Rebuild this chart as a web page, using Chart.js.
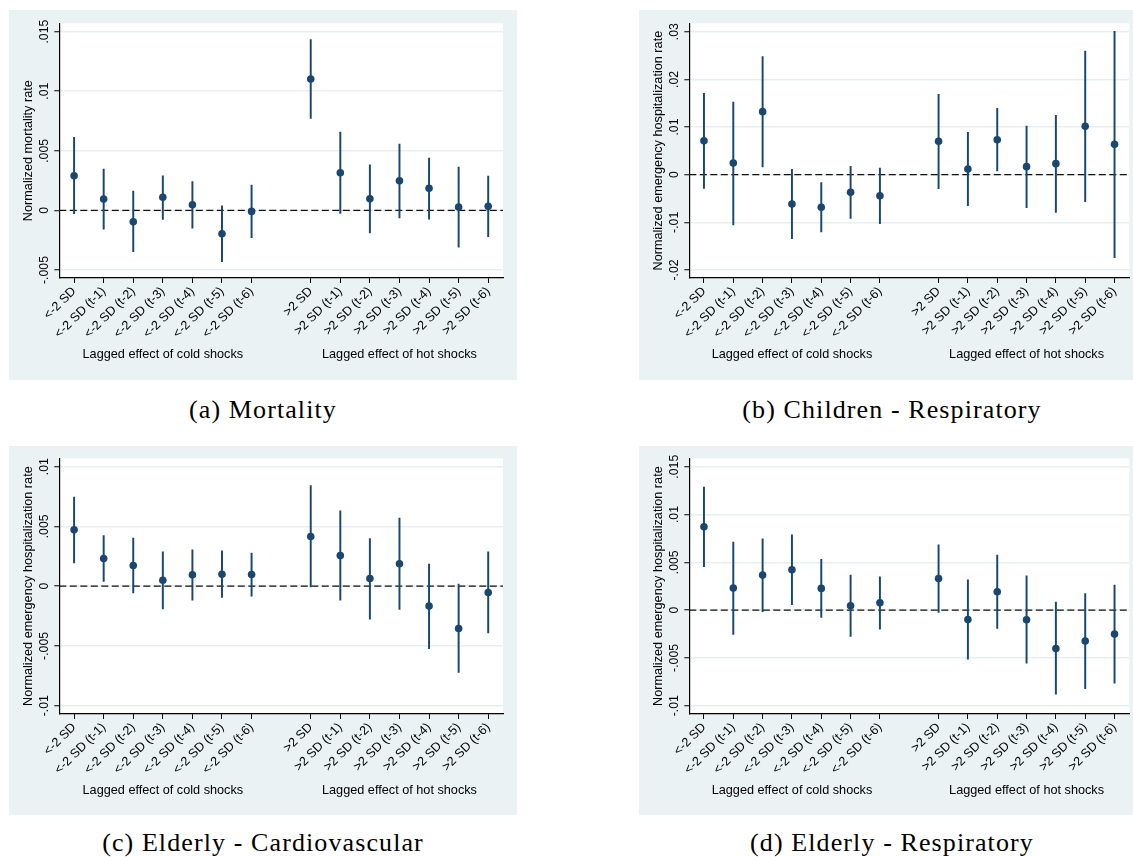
<!DOCTYPE html>
<html>
<head>
<meta charset="utf-8">
<script src="https://cdn.jsdelivr.net/npm/chart.js@4.4.1/dist/chart.umd.min.js"></script>
<style>
  html, body { margin: 0; padding: 0; background: #fff; overflow: hidden; width: 1133px; height: 857px; }
  canvas { position: absolute; }
  .cap {
    position: absolute; width: 500px; text-align: center;
    font-family: "Liberation Serif", serif; font-size: 26px; line-height: 26px;
    letter-spacing: 1.1px; color: #000; white-space: nowrap;
  }
</style>
</head>
<body>
<canvas id="panelA" width="508" height="370" style="left:9px;top:10px"></canvas>
<canvas id="panelB" width="494" height="370" style="left:639px;top:10px"></canvas>
<canvas id="panelC" width="508" height="369" style="left:9px;top:446px"></canvas>
<canvas id="panelD" width="494" height="369" style="left:639px;top:446px"></canvas>

<div class="cap" style="left:13px;top:397px">(a) Mortality</div>
<div class="cap" style="left:642px;top:397px">(b) Children - Respiratory</div>
<div class="cap" style="left:13px;top:830px">(c) Elderly - Cardiovascular</div>
<div class="cap" style="left:642px;top:830px">(d) Elderly - Respiratory</div>

<script>
// Shock categories; the blank slot separates cold lags from hot lags
const categories = [
  '<-2 SD', '<-2 SD (t-1)', '<-2 SD (t-2)', '<-2 SD (t-3)', '<-2 SD (t-4)', '<-2 SD (t-5)', '<-2 SD (t-6)',
  '',
  '>2 SD', '>2 SD (t-1)', '>2 SD (t-2)', '>2 SD (t-3)', '>2 SD (t-4)', '>2 SD (t-5)', '>2 SD (t-6)'
];
const groupLabels = ['Lagged effect of cold shocks', 'Lagged effect of hot shocks'];
const groupCenters = [3, 11];

// (a) Mortality: point estimates and 95% CI bounds
const mortalityEst  = [0.0029, 0.00095, -0.00095, 0.0011, 0.00048, -0.00196, -0.00008, null, 0.01103, 0.00316, 0.00098, 0.00249, 0.00185, 0.00028, 0.00034];
const mortalityLow  = [-0.00028, -0.00157, -0.00347, -0.00076, -0.00148, -0.00431, -0.00229, null, 0.00772, -0.00025, -0.00188, -0.00062, -0.00073, -0.00308, -0.00221];
const mortalityHigh = [0.00613, 0.00347, 0.00162, 0.00291, 0.00243, 0.00039, 0.00213, null, 0.01433, 0.00658, 0.00383, 0.00557, 0.00439, 0.00364, 0.00288];
const mortalityTicks = [-0.005, 0, 0.005, 0.01, 0.015];
const mortalityTickLabels = ['-.005', '0', '.005', '.01', '.015'];

// (b) Children - respiratory emergency hospitalizations
const childRespEst  = [0.00713, 0.00245, 0.01322, -0.00615, -0.00685, -0.00371, -0.00441, null, 0.00699, 0.00119, 0.00734, 0.00168, 0.00231, 0.01014, 0.00636];
const childRespLow  = [-0.00287, -0.01056, 0.00161, -0.01343, -0.01203, -0.00916, -0.01028, null, -0.00294, -0.0065, 0.00077, -0.00692, -0.0079, -0.00566, -0.01741];
const childRespHigh = [0.01706, 0.01524, 0.02476, 0.00112, -0.00168, 0.00175, 0.0014, null, 0.01685, 0.00888, 0.01392, 0.01021, 0.01245, 0.02594, 0.03007];
const childRespTicks = [-0.02, -0.01, 0, 0.01, 0.02, 0.03];
const childRespTickLabels = ['-.02', '-.01', '0', '.01', '.02', '.03'];

// (c) Elderly - cardiovascular emergency hospitalizations
const elderCardioEst  = [0.00471, 0.00232, 0.00173, 0.0005, 0.00095, 0.001, 0.00098, null, 0.00416, 0.00257, 0.00064, 0.00187, -0.00167, -0.00354, -0.00053];
const elderCardioLow  = [0.00195, 0.00039, -0.00056, -0.0019, -0.00117, -0.00095, -0.00084, null, -0.00006, -0.00117, -0.00276, -0.00195, -0.00524, -0.00722, -0.00391];
const elderCardioHigh = [0.00745, 0.00424, 0.00402, 0.00287, 0.00304, 0.00296, 0.00276, null, 0.00842, 0.0063, 0.00399, 0.00569, 0.00184, 0.00017, 0.00287];
const elderCardioTicks = [-0.01, -0.005, 0, 0.005, 0.01];
const elderCardioTickLabels = ['-.01', '-.005', '0', '.005', '.01'];

// (d) Elderly - respiratory emergency hospitalizations
const elderRespEst  = [0.00872, 0.0023, 0.00366, 0.00422, 0.00227, 0.00045, 0.00077, null, 0.00331, -0.00098, 0.00192, -0.00101, -0.00401, -0.00324, -0.00251];
const elderRespLow  = [0.00453, -0.00255, -0.00017, 0.00056, -0.00077, -0.00275, -0.00199, null, -0.00024, -0.00513, -0.00192, -0.00554, -0.00879, -0.00823, -0.00764];
const elderRespHigh = [0.01287, 0.00711, 0.00746, 0.00788, 0.0053, 0.00366, 0.00349, null, 0.00683, 0.00317, 0.00575, 0.00359, 0.00084, 0.00174, 0.00262];
const elderRespTicks = [-0.01, -0.005, 0, 0.005, 0.01, 0.015];
const elderRespTickLabels = ['-.01', '-.005', '0', '.005', '.01', '.015'];

const NAVY = '#1a476f';
const REGION_BG = '#eaf2f3';
const GRID = '#e6eff1';
const SANS = '"Liberation Sans", Arial, sans-serif';

// Outer region fill and white plot area
const backgroundPlugin = {
  id: 'regionBg',
  beforeDraw(chart) {
    const { ctx, chartArea: a } = chart;
    ctx.save();
    ctx.fillStyle = REGION_BG;
    ctx.fillRect(0, 0, chart.width, chart.height);
    ctx.fillStyle = '#fff';
    ctx.fillRect(a.left, a.top, a.right - a.left, a.bottom - a.top);
    ctx.restore();
  }
};

// Dashed reference line at zero
const zeroLinePlugin = {
  id: 'zeroLine',
  beforeDatasetsDraw(chart) {
    const { ctx, chartArea: a } = chart;
    const y = chart.scales.y.getPixelForValue(0);
    ctx.save();
    ctx.strokeStyle = '#111';
    ctx.lineWidth = 1.2;
    ctx.setLineDash([7, 3.5]);
    ctx.beginPath();
    ctx.moveTo(a.left, y);
    ctx.lineTo(a.right, y);
    ctx.stroke();
    ctx.restore();
  }
};

// Vertical y tick labels and the two group captions under the x axis
const textPlugin = {
  id: 'axisText',
  afterDraw(chart) {
    const { ctx } = chart;
    const cfg = chart.options.plugins.axisText;
    const ys = chart.scales.y, xs = chart.scales.x;
    ctx.save();
    ctx.fillStyle = '#000';
    ctx.font = '12.3px ' + SANS;
    ctx.textAlign = 'center';
    ctx.textBaseline = 'alphabetic';
    cfg.tickValues.forEach((v, i) => {
      const y = ys.getPixelForValue(v);
      ctx.save();
      ctx.translate(38.8, y);
      ctx.rotate(-Math.PI / 2);
      ctx.fillText(cfg.tickLabels[i], 0, 0);
      ctx.restore();
    });
    ctx.font = '12.7px ' + SANS;
    ctx.textBaseline = 'middle';
    groupLabels.forEach((t, i) => {
      ctx.fillText(t, xs.getPixelForValue(groupCenters[i]), 344);
    });
    ctx.restore();
  }
};

function makePanel(id, spec) {
  const canvas = document.getElementById(id);
  const H = canvas.height;
  const bars = categories.map((_, i) => spec.low[i] == null ? null : [spec.low[i], spec.high[i]]);
  return new Chart(canvas, {
    data: {
      labels: categories,
      datasets: [
        { type: 'line', data: spec.est, showLine: false, pointRadius: 3.8, pointHoverRadius: 3.8,
          pointBackgroundColor: NAVY, pointBorderColor: NAVY, pointBorderWidth: 0, order: 0 },
        { type: 'bar', data: bars, backgroundColor: NAVY, barThickness: 1.3, borderWidth: 0, order: 1 }
      ]
    },
    options: {
      responsive: false,
      animation: false,
      devicePixelRatio: 1,
      events: [],
      layout: { padding: { top: spec.padTop, right: spec.padRight, left: 0, bottom: 0 } },
      plugins: {
        legend: { display: false },
        tooltip: { enabled: false },
        axisText: { tickValues: spec.ticks, tickLabels: spec.tickLabels }
      },
      scales: {
        x: {
          type: 'category',
          offset: true,
          grid: {
            offset: false, drawOnChartArea: false, drawTicks: true, tickLength: 5, tickWidth: 1,
            tickColor: c => (c.index === 7 ? 'rgba(0,0,0,0)' : '#000')
          },
          border: { color: '#000', width: 1.2 },
          ticks: {
            autoSkip: false, maxRotation: 45, minRotation: 45, padding: 1,
            color: '#000', font: { family: SANS, size: 12.6 }
          },
          afterFit: s => { s.height = H - 268; }
        },
        y: {
          type: 'linear',
          min: spec.min, max: spec.max,
          afterBuildTicks: s => { s.ticks = spec.ticks.map(v => ({ value: v })); },
          ticks: { display: false },
          grid: { color: GRID, lineWidth: 1.5, drawTicks: true, tickLength: 5, tickWidth: 1, tickColor: '#000' },
          border: { color: '#000', width: 1.2 },
          title: {
            display: true, text: spec.title, color: '#000',
            font: { family: SANS, size: 12.7 }, padding: { top: 11.4, bottom: 0 }
          },
          afterFit: s => { s.width = 50.3; }
        }
      }
    },
    plugins: [backgroundPlugin, zeroLinePlugin, textPlugin]
  });
}

makePanel('panelA', {
  est: mortalityEst, low: mortalityLow, high: mortalityHigh,
  ticks: mortalityTicks, tickLabels: mortalityTickLabels,
  min: -0.00567, max: 0.0157, title: 'Normalized mortality rate', padTop: 13.3, padRight: 14
});
makePanel('panelB', {
  est: childRespEst, low: childRespLow, high: childRespHigh,
  ticks: childRespTicks, tickLabels: childRespTickLabels,
  min: -0.02168, max: 0.03176, title: 'Normalized emergency hospitalization rate', padTop: 13.3, padRight: 0
});
makePanel('panelC', {
  est: elderCardioEst, low: elderCardioLow, high: elderCardioHigh,
  ticks: elderCardioTicks, tickLabels: elderCardioTickLabels,
  min: -0.0107, max: 0.0107, title: 'Normalized emergency hospitalization rate', padTop: 12.3, padRight: 14
});
makePanel('panelD', {
  est: elderRespEst, low: elderRespLow, high: elderRespHigh,
  ticks: elderRespTicks, tickLabels: elderRespTickLabels,
  min: -0.01087, max: 0.01588, title: 'Normalized emergency hospitalization rate', padTop: 12.3, padRight: 0
});
</script>
</body>
</html>
